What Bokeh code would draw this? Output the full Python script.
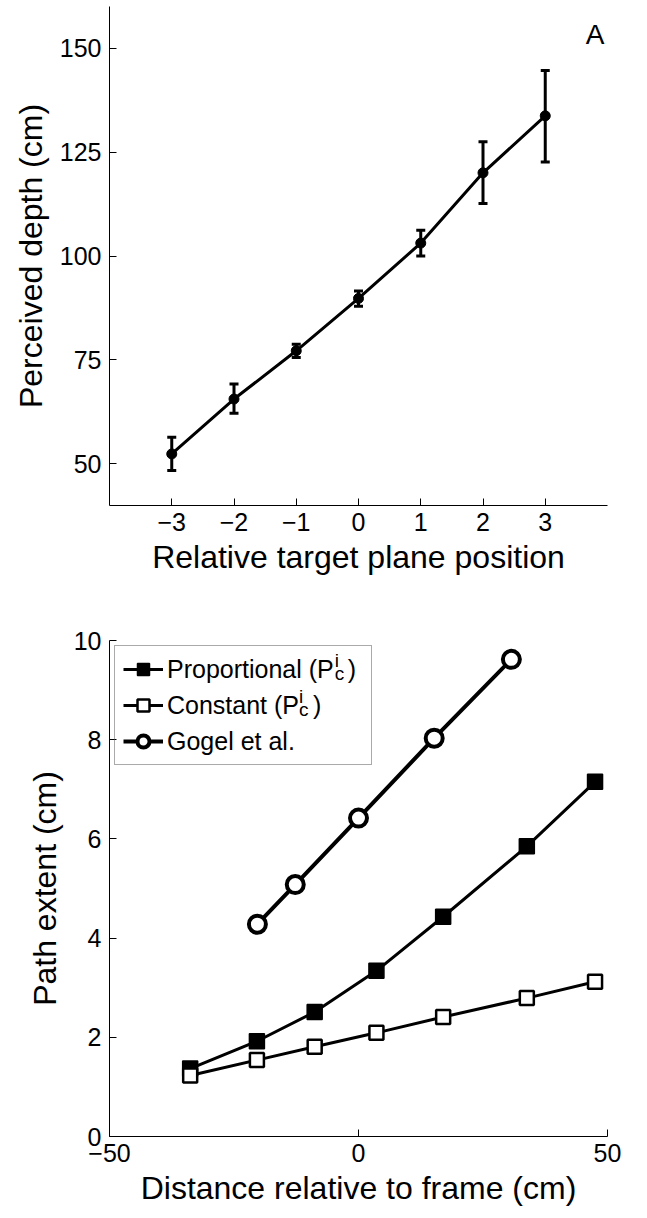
from bokeh.plotting import figure
from bokeh.models import (ColumnDataSource, Whisker, TeeHead, FixedTicker, Legend,
                          LegendItem, Label, Range1d)
from bokeh.layouts import column
from bokeh.embed import file_html
from bokeh.resources import INLINE

FONT = "Liberation Sans"

# ---------------- Panel A data ----------------
a_positions = [-3, -2, -1, 0, 1, 2, 3]
a_depth = [52.4, 65.6, 77.2, 89.8, 103.1, 120.0, 133.7]
a_upper = [56.4, 69.2, 78.8, 91.6, 106.2, 127.5, 144.6]
a_lower = [48.4, 62.2, 75.6, 87.9, 100.0, 112.6, 122.6]
a_xticks = [-3, -2, -1, 0, 1, 2, 3]
a_xtick_labels = ["\u22123", "\u22122", "\u22121", "0", "1", "2", "3"]
a_yticks = [50, 75, 100, 125, 150]

# ---------------- Panel B data ----------------
b_dist = [-33.8, -20.4, -8.8, 3.6, 17.0, 33.8, 47.5]
b_proportional = [1.37, 1.92, 2.51, 3.34, 4.43, 5.85, 7.15]
b_constant = [1.23, 1.54, 1.81, 2.09, 2.41, 2.79, 3.12]
b_gogel_dist = [-20.3, -12.7, 0.0, 15.2, 30.7]
b_gogel = [4.28, 5.08, 6.42, 8.03, 9.62]
b_xticks = [-50, 0, 50]
b_xtick_labels = ["\u221250", "0", "50"]
b_yticks = [0, 2, 4, 6, 8, 10]
b_labels = ["Proportional (P\u00a0\u00a0)\u00a0", "Constant (P\u00a0\u00a0)", "Gogel et al."]


def style(p, xticks, xlabels, yticks):
    p.grid.visible = False
    p.outline_line_color = None
    p.background_fill_color = "white"
    p.border_fill_color = "white"
    p.xaxis.ticker = FixedTicker(ticks=xticks)
    p.xaxis.major_label_overrides = {t: l for t, l in zip(xticks, xlabels)}
    p.yaxis.ticker = FixedTicker(ticks=yticks)
    for ax in (p.xaxis[0], p.yaxis[0]):
        ax.major_tick_in = 7
        ax.major_tick_out = 0
        ax.minor_tick_line_color = None
        ax.axis_line_color = "black"
        ax.major_tick_line_color = "black"
        ax.axis_line_width = 1
        ax.major_label_text_font = FONT
        ax.major_label_text_font_size = "25px"
        ax.major_label_text_color = "black"
        ax.axis_label_text_font = FONT
        ax.axis_label_text_font_size = "32px"
        ax.axis_label_text_font_style = "normal"
        ax.axis_label_text_color = "black"
    p.xaxis.major_label_standoff = 7
    p.xaxis.axis_label_standoff = 5
    p.yaxis.major_label_standoff = 8
    p.yaxis.axis_label_standoff = 8


# ---------------- Panel A ----------------
pA = figure(width=640, height=585, output_backend="svg", toolbar_location=None,
            x_range=Range1d(-4, 4), y_range=Range1d(40, 160),
            min_border_left=108, min_border_right=33, min_border_top=6,
            min_border_bottom=80,
            x_axis_label="Relative target plane position",
            y_axis_label="Perceived depth (cm)")
style(pA, a_xticks, a_xtick_labels, a_yticks)

srcA = ColumnDataSource(dict(x=a_positions, y=a_depth, upper=a_upper, lower=a_lower))
pA.add_layout(Whisker(source=srcA, base="x", upper="upper", lower="lower",
                      dimension="height", line_width=3, line_color="black",
                      upper_head=TeeHead(size=9, line_width=3, line_color="black"),
                      lower_head=TeeHead(size=9, line_width=3, line_color="black")))
pA.line("x", "y", source=srcA, line_width=3, line_color="black")
pA.scatter("x", "y", source=srcA, size=10, marker="circle", fill_color="black",
           line_color="black")
pA.add_layout(Label(x=3.8, y=153.2, text="A", text_font=FONT, text_font_size="28px",
                    text_align="center", text_baseline="middle", text_color="black"))

# ---------------- Panel B ----------------
pB = figure(width=640, height=629, output_backend="svg", toolbar_location=None,
            x_range=Range1d(-50, 50), y_range=Range1d(0, 10),
            min_border_left=109, min_border_right=30, min_border_top=55,
            min_border_bottom=78,
            x_axis_label="Distance relative to frame (cm)",
            y_axis_label="Path extent (cm)")
style(pB, b_xticks, b_xtick_labels, b_yticks)

srcP = ColumnDataSource(dict(x=b_dist, y=b_proportional))
srcC = ColumnDataSource(dict(x=b_dist, y=b_constant))
srcG = ColumnDataSource(dict(x=b_gogel_dist, y=b_gogel))

lG = pB.line("x", "y", source=srcG, line_width=4, line_color="black")
lP = pB.line("x", "y", source=srcP, line_width=3, line_color="black")
lC = pB.line("x", "y", source=srcC, line_width=3, line_color="black")
sP = pB.scatter("x", "y", source=srcP, marker="square", size=15,
                fill_color="black", line_color="black", line_width=1.5)
sC = pB.scatter("x", "y", source=srcC, marker="square", size=14,
                fill_color="white", line_color="black", line_width=2.5)
sG = pB.scatter("x", "y", source=srcG, marker="circle", size=17,
                fill_color="white", line_color="black", line_width=4)

# super/subscripts for P_c^i in the legend (drawn under a transparent legend)
for (sx, sy_i, sy_c) in [(-4.75, 9.60, 9.335), (-11.95, 8.87, 8.61)]:
    pB.add_layout(Label(x=sx, y=sy_i, text="i", text_font=FONT, text_font_size="19px",
                        text_align="left", text_baseline="middle", text_color="black"))
    pB.add_layout(Label(x=sx, y=sy_c, text="c", text_font=FONT, text_font_size="19px",
                        text_align="left", text_baseline="middle", text_color="black"))

legend = Legend(items=[LegendItem(label=b_labels[0], renderers=[lP, sP]),
                       LegendItem(label=b_labels[1], renderers=[lC, sC]),
                       LegendItem(label=b_labels[2], renderers=[lG, sG])],
                location="top_left", margin=5, padding=8, spacing=6,
                glyph_width=40, glyph_height=30, label_height=30, label_standoff=4,
                label_text_font=FONT, label_text_font_size="25px",
                label_text_color="black", border_line_color="#555555",
                border_line_width=1, background_fill_color=None,
                background_fill_alpha=0)
pB.add_layout(legend)

pB.add_layout(Label(x=52.9, y=9.45, text="B", text_font=FONT, text_font_size="28px",
                    text_align="center", text_baseline="middle", text_color="black"))

layout = column(pA, pB, spacing=0)
open("out.html", "w").write(file_html(layout, INLINE))
